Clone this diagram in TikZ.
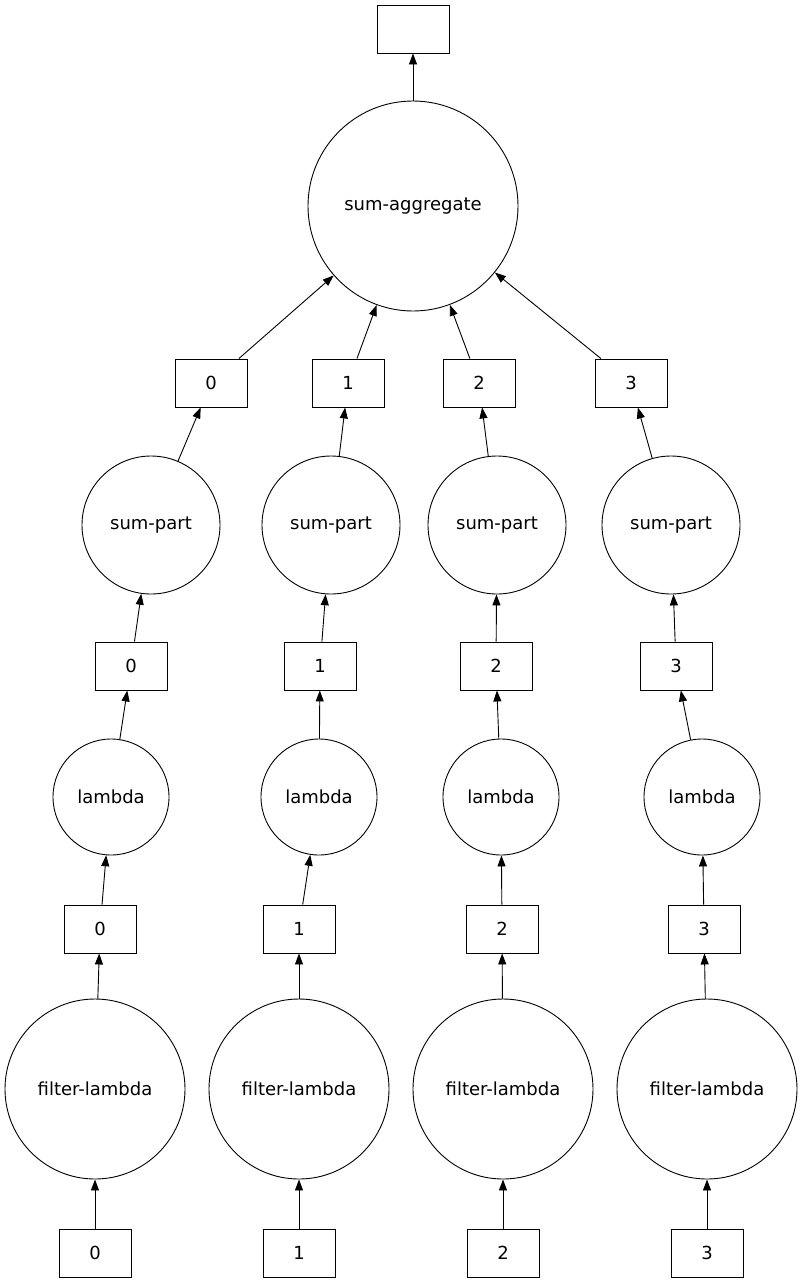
\documentclass[tikz,border=0pt]{standalone}
\usepackage{fontspec}
\setmainfont{DejaVu Sans}
\usetikzlibrary{arrows.meta}
\begin{document}
\begin{tikzpicture}[x=1pt,y=-1pt,
  box/.style={draw,line width=0.9pt,minimum width=72pt,minimum height=48pt,inner sep=0pt,font=\fontsize{18}{20}\selectfont},
  circ/.style={draw,circle,line width=0.9pt,inner sep=0pt,font=\fontsize{18}{20}\selectfont},
  e/.style={line width=0.9pt,-{Triangle[length=11pt,width=8pt]}}]
\useasboundingbox (0,0) rectangle (803,1283);
\node[box] (top) at (413,29) {};
\node[circ,minimum size=210pt] (agg) at (413,206) {sum-aggregate};
\foreach \i/\a/\b/\c/\d/\f in {0/211/151/131/111/100, 1/348/331/320/319/299, 2/479/497/496/501/502, 3/631/671/676/702/704}{
  \pgfmathsetmacro{\g}{95+204*\i}
  \node[box] (r\i) at (\a,383) {\i};
  \node[circ,minimum size=138pt] (sp\i) at (\b,525) {sum-part};
  \node[box] (s\i) at (\c,666) {\i};
  \node[circ,minimum size=116pt] (l\i) at (\d,797) {lambda};
  \node[box] (t\i) at (\f,929) {\i};
  \node[circ,minimum size=180pt] (fl\i) at (\g,1089) {filter-lambda};
  \node[box] (b\i) at (\g,1253) {\i};
  \draw[e] (b\i) -- (fl\i);
  \draw[e] (fl\i) -- (t\i);
  \draw[e] (t\i) -- (l\i);
  \draw[e] (l\i) -- (s\i);
  \draw[e] (s\i) -- (sp\i);
  \draw[e] (sp\i) -- (r\i);
  \draw[e] (r\i) -- (agg);
}
\draw[e] (agg) -- (top);
\end{tikzpicture}
\end{document}
